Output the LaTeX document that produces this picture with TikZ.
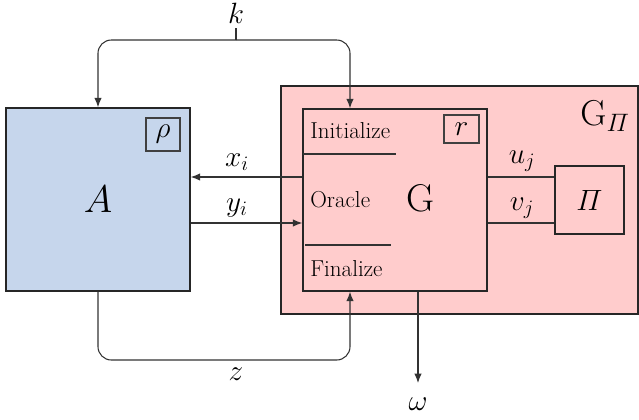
\RequirePackage{fix-cm}
\documentclass[tikz,border=0pt]{standalone}
\usepackage{amsmath}
\usetikzlibrary{arrows.meta,fit}
\definecolor{boxblue}{RGB}{198,214,236}
\definecolor{boxpink}{RGB}{255,204,204}
\definecolor{linegray}{RGB}{50,50,50}
\tikzset{
  blk/.style={draw=black!85, line width=1.1pt, inner sep=0pt},
  smallbox/.style={draw=black!75, line width=0.8pt, inner sep=0pt},
  conn/.style={draw=linegray, line width=0.8pt},
  arr/.style={conn, -{Latex[length=7pt,width=5.5pt]}},
  mlab/.style={font=\fontsize{22}{26}\selectfont, inner sep=1pt},
  txt/.style={font=\fontsize{17.3}{21}\selectfont, inner sep=0pt, anchor=west},
  biglab/.style={font=\fontsize{29}{34}\selectfont, inner sep=0pt},
}
\begin{document}
\begin{tikzpicture}[x=0.75pt,y=-0.75pt]
\useasboundingbox (0,0) rectangle (639,419);
% outer G_Pi box
\node[blk, fill=boxpink, fit={(281,86) (638,314)}] (GP) {};
\node[font=\fontsize{27}{32}\selectfont, inner sep=0pt] (GPl) at (605,116) {$\mathrm{G}_{\varPi}$};
% A box
\node[blk, fill=boxblue, fit={(6,108) (190,291)}] (A) {};
\node[biglab] (Al) at (98,199) {$A$};
\node[smallbox, fit={(146,118) (180,151)}] (rho) {};
\node[mlab] at (rho.center) {$\rho$};
% G box
\node[blk, fit={(303,109) (487,291)}] (G) {};
\node[biglab] (Gl) at (421,198) {G};
\node[smallbox, fit={(444,115) (479,143)}] (r) {};
\node[mlab] at (r.center) {$r$};
\node[txt] (init) at (310,131) {Initialize};
\node[txt] (orac) at (310,200) {Oracle};
\node[txt] (fin) at (310,269) {Finalize};
\coordinate (l1a) at (303,154); \coordinate (l1b) at (396,154);
\coordinate (l2a) at (305,245); \coordinate (l2b) at (391,245);
\draw[conn, line width=1pt] (l1a) -- (l1b);
\draw[conn] (l2a) -- (l2b);
% Pi box
\node[blk, fit={(555,166) (624,234)}] (Pi) {};
\node[mlab] at (Pi.center) {$\varPi$};
% coordinates
\coordinate (kx) at (98,0);
\coordinate (gx) at (350,0);
\coordinate (ox) at (418,0);
\coordinate (yx) at (0,177);
\coordinate (yy) at (0,223);
\coordinate (kj) at (236,40);
\coordinate (zb) at (236,360);
\coordinate (oend) at (418,383);
% k
\node[mlab] (k) at (236,13) {$k$};
\draw[conn] (236,28) -- (kj);
\draw[arr, rounded corners=10pt] (kj) -| (A.north);
\draw[arr, rounded corners=10pt] (kj) -| (G.north -| gx);
% z
\draw[arr, rounded corners=10pt] (A.south) |- (zb) -| (G.south -| gx);
\node[mlab] (z) at (236,374) {$z$};
% x_i, y_i
\draw[arr] (G.west |- yx) -- (A.east |- yx);
\node[mlab] (xl) at (237,162) {$x_i$};
\draw[arr] (A.east |- yy) -- (G.west |- yy);
\node[mlab] (yl) at (237,208) {$y_i$};
% u_j, v_j
\draw[conn] (G.east |- yx) -- (Pi.west |- yx);
\node[mlab] (ul) at (522,161) {$u_j$};
\draw[conn] (G.east |- yy) -- (Pi.west |- yy);
\node[mlab] (vl) at (522,208) {$v_j$};
% omega
\draw[arr] (G.south -| ox) -- (oend);
\node[mlab] (om) at (418,404) {$\omega$};
\end{tikzpicture}
\end{document}
